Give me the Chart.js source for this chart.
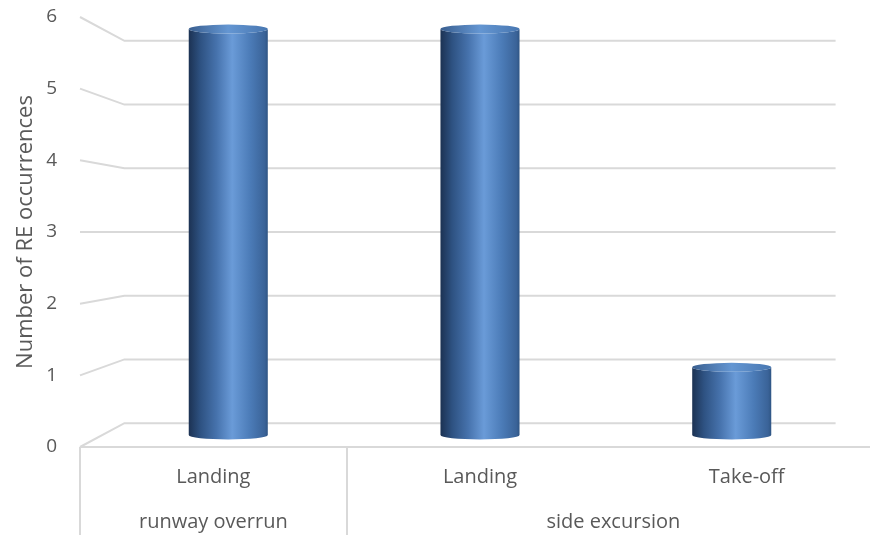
<!DOCTYPE html>
<html>
<head>
<meta charset="utf-8">
<script src="https://cdn.jsdelivr.net/npm/chart.js@4"></script>
<style>
  html, body { margin: 0; padding: 0; background: #fff; overflow: hidden; }
  canvas { display: block; }
</style>
</head>
<body>
<canvas id="chart" width="880" height="535"></canvas>
<script>
// inner categories, values and the outer grouping of the category axis
const phases = ['Landing', 'Landing', 'Take-off'];
const occurrences = [6, 6, 1];
const eventTypes = ['runway overrun', 'side excursion'];
const eventSpans = [1, 2];
const yTicks = [0, 1, 2, 3, 4, 5, 6];

const textColor = '#595959';
const lineColor = '#d9d9d9';
const family = "'Open Sans', sans-serif";

// depth of the back wall and of the bar row, as a scale towards the vanishing point
const BACK = 0.889;
const MID = 0.944;

function project(area, x, y, s) {
  const vx = (area.left + area.right) / 2;
  const vy = (area.top + area.bottom) / 2;
  return [vx + (x - vx) * s, vy + (y - vy) * s];
}

// centre of each outer group and its boundaries, in category index units
const groupCenters = [];
const groupEdges = [-0.5];
let start = 0;
eventSpans.forEach(n => {
  groupCenters.push(start + (n - 1) / 2);
  start += n;
  groupEdges.push(start - 0.5);
});

const walls = {
  id: 'walls',
  beforeDatasetsDraw(chart) {
    const { ctx, chartArea: a, scales: { y, x2 } } = chart;
    ctx.save();
    ctx.strokeStyle = lineColor;
    ctx.lineWidth = 2;
    yTicks.forEach(v => {
      const fy = y.getPixelForValue(v);
      const [bl, by] = project(a, a.left, fy, BACK);
      const [br] = project(a, a.right, fy, BACK);
      ctx.beginPath();
      ctx.moveTo(a.left, fy);
      ctx.lineTo(bl, by);
      ctx.lineTo(br, by);
      ctx.stroke();
    });
    // front edge of the floor
    const y0 = y.getPixelForValue(0);
    ctx.beginPath();
    ctx.moveTo(a.left, y0);
    ctx.lineTo(a.right, y0);
    ctx.stroke();
    // dividers between the outer groups
    groupEdges.forEach(e => {
      const gx = Math.round(x2.getPixelForValue(e));
      ctx.beginPath();
      ctx.moveTo(gx, y0);
      ctx.lineTo(gx, chart.height);
      ctx.stroke();
    });
    ctx.restore();
  }
};

const cylinders = {
  id: 'cylinders',
  afterDatasetsDraw(chart) {
    const { ctx, chartArea: a } = chart;
    ctx.save();
    chart.getDatasetMeta(0).data.forEach(bar => {
      const { x, y, base, width } = bar.getProps(['x', 'y', 'base', 'width'], true);
      const [cx, top] = project(a, x, y, MID);
      const [, bottom] = project(a, x, base, MID);
      const rx = width * MID / 2;
      const ry = 4.5;
      const l = cx - rx, r = cx + rx;

      const side = ctx.createLinearGradient(l, 0, r, 0);
      side.addColorStop(0, '#1c3253');
      side.addColorStop(0.15, '#2e5282');
      side.addColorStop(0.35, '#4672ac');
      side.addColorStop(0.55, '#6a9bd8');
      side.addColorStop(0.78, '#4b7bb7');
      side.addColorStop(0.96, '#3a6398');
      side.addColorStop(1, '#2f5584');

      ctx.beginPath();
      ctx.moveTo(l, top);
      ctx.lineTo(l, bottom);
      ctx.ellipse(cx, bottom, rx, ry, 0, Math.PI, 0, true);
      ctx.lineTo(r, top);
      ctx.ellipse(cx, top, rx, ry, 0, 0, Math.PI, false);
      ctx.closePath();
      ctx.fillStyle = side;
      ctx.fill();

      const cap = ctx.createLinearGradient(l, 0, r, 0);
      cap.addColorStop(0, '#3a5f90');
      cap.addColorStop(0.5, '#6496d2');
      cap.addColorStop(1, '#4877b1');
      ctx.beginPath();
      ctx.ellipse(cx, top, rx, ry, 0, 0, Math.PI * 2);
      ctx.fillStyle = cap;
      ctx.fill();
    });
    ctx.restore();
  }
};

new Chart(document.getElementById('chart'), {
  type: 'bar',
  data: {
    labels: phases,
    datasets: [{
      data: occurrences,
      backgroundColor: 'rgba(0,0,0,0)',
      borderWidth: 0,
      categoryPercentage: 1,
      barPercentage: 0.314,
    }]
  },
  options: {
    responsive: false,
    animation: false,
    events: [],
    devicePixelRatio: 1,
    layout: { padding: { top: 17, right: 0, bottom: 0, left: 0 } },
    plugins: {
      legend: { display: false },
      tooltip: { enabled: false },
    },
    scales: {
      x: {
        type: 'category',
        grid: { display: false, drawTicks: false },
        border: { display: false },
        ticks: { color: textColor, font: { family, size: 20 }, padding: 18, maxRotation: 0, autoSkip: false },
        afterFit(s) { s.height = 55; },
      },
      x2: {
        type: 'linear',
        position: 'bottom',
        min: -0.5,
        max: 2.5,
        offset: false,
        grid: { display: false, drawTicks: false },
        border: { display: false },
        afterBuildTicks(s) { s.ticks = groupCenters.map(value => ({ value })); },
        ticks: {
          color: textColor,
          font: { family, size: 20 },
          padding: 8,
          maxRotation: 0,
          autoSkip: false,
          callback: (v, i) => eventTypes[i],
        },
        afterFit(s) { s.height = 33; },
      },
      y: {
        min: 0,
        max: 6,
        grid: { display: false, drawTicks: false },
        border: { display: false },
        afterBuildTicks(s) { s.ticks = yTicks.map(value => ({ value })); },
        ticks: { color: textColor, font: { family, size: 19 }, padding: 23 },
        title: {
          display: true,
          text: 'Number of RE occurrences',
          color: textColor,
          font: { family, size: 22 },
          padding: { top: 13, bottom: 0 },
        },
        afterFit(s) {
          s.width = 80;
          // the label padding would otherwise push the plot area down
          s.paddingTop = 0;
          s.paddingBottom = 0;
        },
      },
    },
  },
  plugins: [walls, cylinders],
});
</script>
</body>
</html>
